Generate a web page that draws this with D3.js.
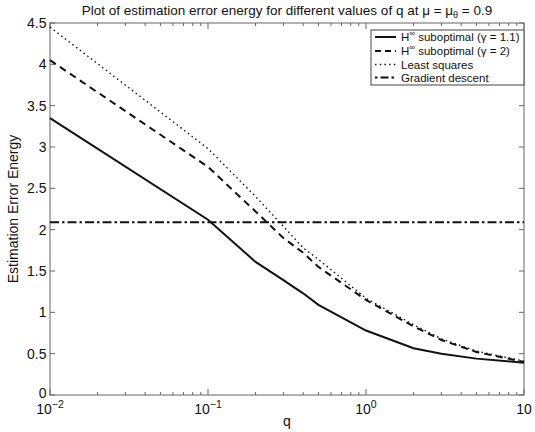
<!DOCTYPE html>
<html><head><meta charset="utf-8">
<script src="https://cdn.jsdelivr.net/npm/d3@7"></script>
<style>body{margin:0;background:#fff}svg{display:block;font-family:"Liberation Sans",Arial,sans-serif}</style>
</head><body><svg id="c" width="535" height="432"></svg>
<script>
const qValues = [0.01, 0.1, 0.2, 0.3, 0.4, 0.5, 1, 2, 3, 5, 10];
const hinf11 = [3.35, 2.12, 1.61, 1.39, 1.23, 1.09, 0.78, 0.565, 0.50, 0.44, 0.39];
const hinf2  = [4.05, 2.76, 2.22, 1.90, 1.72, 1.55, 1.15, 0.83, 0.665, 0.52, 0.40];
const leastSq = [4.45, 2.98, 2.40, 2.04, 1.78, 1.64, 1.17, 0.85, 0.68, 0.53, 0.41];
const gradDesc = [2.09, 2.09, 2.09, 2.09, 2.09, 2.09, 2.09, 2.09, 2.09, 2.09, 2.09];
const yTicks = [0, 0.5, 1, 1.5, 2, 2.5, 3, 3.5, 4, 4.5];
const xMajor = [0.01, 0.1, 1, 10];
const xMajorLabels = [["10","−2"],["10","−1"],["10","0"],["10",""]];
const legendLabels = ["suboptimal (γ = 1.1)", "suboptimal (γ = 2)", "Least squares", "Gradient descent"];

const svg = d3.select("#c");
const L = 50, R = 524, T = 23, B = 395;
const x = d3.scaleLog().domain([0.01, 10]).range([L, R]);
const y = d3.scaleLinear().domain([0, 4.5]).range([B, T]);
const axisCol = "#666";

const minor = [];
for (let e = -2; e < 1; e++) for (let m = 2; m <= 9; m++) minor.push(m * Math.pow(10, e));

const g = svg.append("g");
g.append("rect").attr("x", L).attr("y", T).attr("width", R - L).attr("height", B - T)
  .attr("fill", "none").attr("stroke", axisCol).attr("stroke-width", 1);

minor.forEach(v => {
  g.append("line").attr("x1", x(v)).attr("x2", x(v)).attr("y1", B).attr("y2", B - 3).attr("stroke", axisCol);
  g.append("line").attr("x1", x(v)).attr("x2", x(v)).attr("y1", T).attr("y2", T + 3).attr("stroke", axisCol);
});
xMajor.forEach(v => {
  g.append("line").attr("x1", x(v)).attr("x2", x(v)).attr("y1", B).attr("y2", B - 6).attr("stroke", axisCol);
  g.append("line").attr("x1", x(v)).attr("x2", x(v)).attr("y1", T).attr("y2", T + 6).attr("stroke", axisCol);
});
xMajor.forEach((v, i) => {
  const t = g.append("text").attr("x", x(v)).attr("y", 414).attr("text-anchor", "middle")
    .attr("font-size", 14).attr("fill", "#111");
  t.append("tspan").text(xMajorLabels[i][0]);
  if (xMajorLabels[i][1]) t.append("tspan").attr("dy", -6).attr("font-size", 10.5).text(xMajorLabels[i][1]);
});
yTicks.forEach(v => {
  g.append("line").attr("x1", L).attr("x2", L + 5).attr("y1", y(v)).attr("y2", y(v)).attr("stroke", axisCol);
  g.append("line").attr("x1", R).attr("x2", R - 5).attr("y1", y(v)).attr("y2", y(v)).attr("stroke", axisCol);
  g.append("text").attr("x", 46.5).attr("y", y(v) + (v === 0 ? 3 : 5)).attr("text-anchor", "end")
    .attr("font-size", 14).attr("fill", "#111").text(String(v));
});

svg.append("text").attr("x", 287).attr("y", 426).attr("text-anchor", "middle").attr("font-size", 14).attr("fill", "#111").text("q");
svg.append("text").attr("transform", "translate(18,209) rotate(-90)").attr("text-anchor", "middle")
  .attr("font-size", 14).attr("fill", "#111").text("Estimation Error Energy");
const title = svg.append("text").attr("x", 287).attr("y", 15).attr("text-anchor", "middle").attr("font-size", 13.5).attr("fill", "#111");
title.append("tspan").text("Plot of estimation error energy for different values of q at μ = μ");
title.append("tspan").attr("dy", 3).attr("font-size", 9).text("θ");
title.append("tspan").attr("dy", -3).text(" = 0.9");

const series = [
  {vals: hinf11, dash: null, w: 2},
  {vals: hinf2, dash: "7,5", w: 2},
  {vals: leastSq, dash: "1.5,3.2", w: 1.4},
  {vals: gradDesc, dash: "9,3,2.5,3", w: 2}
];
const line = d3.line().x(d => x(d[0])).y(d => y(d[1]));
series.forEach(s => {
  svg.append("path").datum(qValues.map((q, i) => [q, s.vals[i]]))
    .attr("d", line).attr("fill", "none").attr("stroke", "#111")
    .attr("stroke-width", s.w).attr("stroke-dasharray", s.dash);
});

const lg = svg.append("g");
const lx = 371, ly = 30, lw = 153, lh = 55;
lg.append("rect").attr("x", lx).attr("y", ly).attr("width", lw).attr("height", lh)
  .attr("fill", "#fff").attr("stroke", "#444").attr("stroke-width", 1);
const rowY = [37, 51, 64.5, 77.5];
const legDash = [null, "6,4", "1.5,3.2", "2.5,3,8,3"];
series.forEach((s, i) => {
  lg.append("line").attr("x1", 375).attr("x2", 396).attr("y1", rowY[i]).attr("y2", rowY[i])
    .attr("stroke", "#111").attr("stroke-width", s.w).attr("stroke-dasharray", legDash[i]);
  const t = lg.append("text").attr("x", 401).attr("y", rowY[i] + 4).attr("font-size", 11.5).attr("fill", "#111");
  if (i < 2) {
    t.append("tspan").text("H");
    t.append("tspan").attr("dy", -5).attr("font-size", 8).text("∞");
    t.append("tspan").attr("dy", 5).text("  " + legendLabels[i]);
  } else {
    t.text(legendLabels[i]);
  }
});
</script></body></html>
